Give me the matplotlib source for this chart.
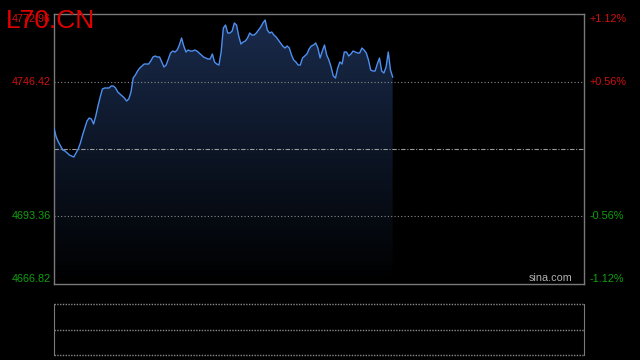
import numpy as np
import matplotlib
matplotlib.use("Agg")
import matplotlib.pyplot as plt

# 行情数据 (每分钟价格)
prev_close = 4719.89
y_ticks = [4772.96, 4746.42, 4693.36, 4666.82]
pct_labels = ["+1.12%", "+0.56%", "-0.56%", "-1.12%"]
n_minutes = 242

prices = [
    4728.14, 4724.60, 4722.64, 4721.07, 4719.49, 4719.10, 4718.31, 4717.53, 4717.14, 4716.74,
    4718.31, 4719.89, 4722.25, 4725.39, 4728.14, 4730.89, 4732.07, 4731.68, 4729.71, 4732.86,
    4736.79, 4740.33, 4743.47, 4743.87, 4743.87, 4743.87, 4744.65, 4744.65, 4743.87, 4742.29,
    4741.51, 4740.72, 4739.94, 4738.76, 4739.54, 4742.29, 4747.80, 4748.98, 4750.55, 4751.73,
    4752.52, 4753.30, 4753.30, 4753.30, 4754.48, 4756.05, 4756.45, 4756.05, 4756.05, 4754.09,
    4752.12, 4752.91, 4755.27, 4757.63, 4758.41, 4758.02, 4758.80, 4760.77, 4763.52, 4760.38,
    4758.02, 4758.80, 4758.41, 4758.41, 4758.80, 4758.41, 4757.63, 4756.84, 4756.05, 4755.66,
    4755.27, 4755.27, 4757.23, 4754.09, 4753.30, 4752.91, 4758.02, 4767.45, 4768.63, 4765.49,
    4765.49, 4766.27, 4769.42, 4768.63, 4764.31, 4761.16, 4761.95, 4762.34, 4763.52, 4765.49,
    4764.70, 4764.70, 4765.49, 4766.67, 4767.85, 4769.42, 4770.60, 4766.67, 4765.49, 4765.88,
    4764.70, 4763.92, 4762.74, 4761.56, 4760.38, 4759.59, 4760.38, 4759.59, 4756.84, 4754.87,
    4754.09, 4752.91, 4752.91, 4755.66, 4756.45, 4757.23, 4759.20, 4760.38, 4760.77, 4761.56,
    4759.59, 4755.66, 4758.41, 4760.77, 4756.84, 4754.87, 4752.12, 4748.58, 4747.80, 4751.73,
    4754.09, 4753.30, 4758.02, 4758.02, 4756.45, 4757.23, 4758.41, 4758.02, 4757.63, 4757.63,
    4759.59, 4758.80, 4757.63, 4754.87, 4750.94, 4750.55, 4750.55, 4753.30, 4755.66, 4750.55,
    4749.76, 4752.12, 4758.02, 4750.94, 4748.19,
]

minutes = np.arange(len(prices))
ymin, ymax = y_ticks[-1], y_ticks[0]
frame = "#7a7a7a"
red = "#d01010"
green = "#10a010"

fig = plt.figure(figsize=(6.4, 3.6), dpi=100, facecolor="black")
ax = fig.add_axes([54 / 640, 1 - 284 / 360, 530 / 640, 270 / 360])
ax.set_facecolor("black")
ax.set_xlim(0, n_minutes - 1)
ax.set_ylim(ymin, ymax)

# 渐变填充
grad = np.linspace(1, 0, 256).reshape(-1, 1)
top_col = np.array([0.10, 0.17, 0.30])
img = grad[..., None] * top_col[None, None, :]
fill = ax.fill_between(minutes, prices, ymin, color="none", lw=0)
im = ax.imshow(img, extent=[0, n_minutes - 1, ymin, ymax], aspect="auto",
               origin="upper", zorder=1)
im.set_clip_path(fill.get_paths()[0], transform=ax.transData)

ax.plot(minutes, prices, color="#4d8ff0", lw=1.0, zorder=3)

# 网格线
for v in (y_ticks[1], y_ticks[2]):
    ax.axhline(v, color="#8a8a8a", lw=0.8, ls=(0, (1, 2)), zorder=2)
ax.axhline(prev_close, color="#9a9a9a", lw=0.8, ls=(0, (4, 1.5, 1, 1.5)), zorder=2)

for s in ax.spines.values():
    s.set_color(frame)
    s.set_linewidth(1.0)
ax.set_xticks([])
ax.set_yticks([])

# 坐标标签
font = "Liberation Sans"
for i, (v, p) in enumerate(zip(y_ticks, pct_labels)):
    col = red if v > prev_close else green
    va = "top" if i == 0 else ("bottom" if i == len(y_ticks) - 1 else "center")
    ax.text(-0.006, v, f"{v:.2f}", transform=ax.get_yaxis_transform(), ha="right",
            va=va, color=col, fontsize=7.8, family=font)
    ax.text(1.011, v, p, transform=ax.get_yaxis_transform(), ha="left",
            va=va, color=col, fontsize=7.8, family=font)

ax.text(0.978, 0.004, "sina.com", transform=ax.transAxes, ha="right", va="bottom",
        color="#b0b0b0", fontsize=7.8, family=font)

fig.text(6 / 640, 1 - 28 / 360, "L70.CN", color="#e00000", fontsize=19,
         family=font, ha="left", va="baseline")

# 成交量面板
ax2 = fig.add_axes([54 / 640, 1 - 355 / 360, 530 / 640, 51 / 360])
ax2.set_facecolor("black")
ax2.set_xlim(0, 1)
ax2.set_ylim(0, 2)
for s in ("top", "bottom"):
    ax2.spines[s].set_visible(False)
for s in ("left", "right"):
    ax2.spines[s].set_color(frame)
for v in (0, 1, 2):
    ax2.axhline(v, color="#8a8a8a", lw=1.0, ls=(0, (1, 1)), clip_on=False)
ax2.set_xticks([])
ax2.set_yticks([])

fig.savefig("out.png", dpi=100, facecolor="black")
